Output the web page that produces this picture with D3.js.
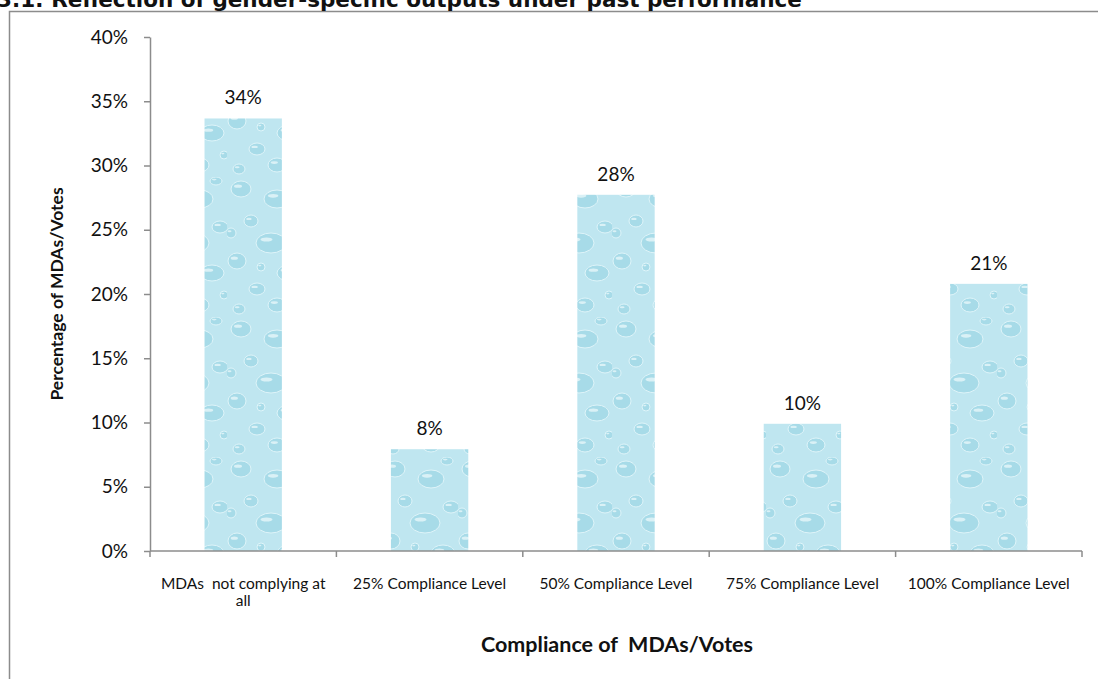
<!DOCTYPE html>
<html>
<head>
<meta charset="utf-8">
<script src="https://cdn.jsdelivr.net/npm/d3@7"></script>
<style>
  body { margin: 0; background: #fff; }
  svg { display: block; }
</style>
</head>
<body>
<script>
// data (34, 8, 28, 10, 21 out of 101 MDAs)
var categories = ['MDAs  not complying at all', '25% Compliance Level', '50% Compliance Level',
                  '75% Compliance Level', '100% Compliance Level']
var values = [33.66, 7.92, 27.72, 9.90, 20.79]
var labels = ['34%', '8%', '28%', '10%', '21%']
var yTicks = [0, 5, 10, 15, 20, 25, 30, 35, 40]

var W = 1098, H = 679
var margin = { top: 37, right: 16, bottom: 128, left: 150 },
    width = 1082 - margin.left,
    height = 551 - margin.top

var svg = d3.select('body').append('svg')
    .attr('width', W)
    .attr('height', H)

// water drop texture for the bars
var defs = svg.append('defs')
var pat = defs.append('pattern')
    .attr('id', 'drops')
    .attr('patternUnits', 'userSpaceOnUse')
    .attr('width', 77).attr('height', 140)
pat.append('rect').attr('width', 77).attr('height', 140).attr('fill', '#bfe6f0')
var drops = [[14, 12, 10, 8], [50, 22, 13, 9], [70, 50, 8, 6], [24, 44, 7, 6], [44, 66, 15, 10],
             [10, 84, 9, 8], [62, 96, 12, 8], [30, 112, 8, 6], [66, 4, 6, 4], [4, 56, 5, 5],
             [50, 128, 9, 7], [12, 132, 6, 5], [34, 90, 4, 4], [74, 118, 4, 4]]
pat.selectAll('ellipse.d').data(drops).enter().append('ellipse')
    .attr('cx', d => d[0]).attr('cy', d => d[1])
    .attr('rx', d => d[2]).attr('ry', d => d[3])
    .attr('fill', '#98d3e3').attr('fill-opacity', 0.6)
    .attr('stroke', '#def4f9').attr('stroke-width', 1)
pat.selectAll('ellipse.h').data(drops).enter().append('ellipse')
    .attr('cx', d => d[0] - d[2] * 0.3).attr('cy', d => d[1] - d[3] * 0.35)
    .attr('rx', d => d[2] * 0.4).attr('ry', d => d[3] * 0.2)
    .attr('fill', '#f0fbfd').attr('fill-opacity', 0.7)

// chart border (only top and left visible)
svg.append('path')
    .attr('d', 'M9.5,' + (H + 5) + 'V11.5H' + (W + 5))
    .attr('fill', 'none')
    .attr('stroke', '#8c8c8c')
    .attr('stroke-width', 1.5)

// title, cut off at the top edge as in the original
svg.append('text')
    .attr('x', -3).attr('y', 7)
    .attr('font-family', 'DejaVu Sans')
    .attr('font-weight', 'bold')
    .attr('font-size', 21.5)
    .attr('fill', '#111')
    .text('3.1: Reflection of gender-specific outputs under past performance')

var g = svg.append('g')
    .attr('transform', 'translate(' + margin.left + ',' + margin.top + ')')

var x = d3.scaleBand().domain(categories).range([0, width]).paddingInner(0.585).paddingOuter(0.2925)
var xb = d3.scaleBand().domain(categories).range([0, width])
var y = d3.scaleLinear().domain([0, 40]).range([height, 0])

// y axis
var yAxis = g.append('g')
    .call(d3.axisLeft(y).tickValues(yTicks).tickFormat(d => d + '%').tickSize(6).tickSizeOuter(0))
yAxis.select('.domain').attr('stroke', '#8c8c8c').attr('stroke-width', 1.5)
yAxis.selectAll('.tick line').attr('stroke', '#8c8c8c').attr('stroke-width', 1.5)
yAxis.selectAll('.tick text')
    .attr('x', -22)
    .attr('font-family', 'Lato')
    .attr('font-size', 19)
    .attr('fill', '#111')

// bars
g.selectAll('rect.bar')
    .data(values)
    .enter().append('rect')
    .attr('class', 'bar')
    .attr('x', (d, i) => x(categories[i]))
    .attr('y', d => y(d))
    .attr('width', x.bandwidth())
    .attr('height', d => height - y(d))
    .attr('fill', 'url(#drops)')

// data labels
g.selectAll('text.lbl')
    .data(values)
    .enter().append('text')
    .attr('class', 'lbl')
    .attr('x', (d, i) => x(categories[i]) + x.bandwidth() / 2)
    .attr('y', d => y(d) - 14)
    .attr('text-anchor', 'middle')
    .attr('font-family', 'Lato')
    .attr('font-size', 19)
    .attr('fill', '#111')
    .text((d, i) => labels[i])

// x axis with boundary ticks
var xAxis = g.append('g').attr('transform', 'translate(0,' + height + ')')
xAxis.append('line')
    .attr('x1', 0).attr('x2', width)
    .attr('stroke', '#8c8c8c').attr('stroke-width', 1.5)
xAxis.selectAll('line.tk')
    .data(categories.concat(['end']))
    .enter().append('line')
    .attr('class', 'tk')
    .attr('x1', (d, i) => i < categories.length ? xb(d) : width)
    .attr('x2', (d, i) => i < categories.length ? xb(d) : width)
    .attr('y1', 0).attr('y2', 6)
    .attr('stroke', '#8c8c8c').attr('stroke-width', 1.5)

// category labels (first one wraps)
var wrapped = [['MDAs  not complying at', 'all']]
xAxis.selectAll('text.cat')
    .data(categories)
    .enter().append('text')
    .attr('class', 'cat')
    .attr('x', d => xb(d) + xb.bandwidth() / 2)
    .attr('y', 38)
    .attr('text-anchor', 'middle')
    .attr('font-family', 'Lato')
    .attr('font-size', 15.5)
    .attr('fill', '#111')
    .style('white-space', 'pre')
    .each(function (d, i) {
        var lines = i === 0 ? wrapped[0] : [d]
        d3.select(this).selectAll('tspan').data(lines).enter().append('tspan')
            .attr('x', xb(d) + xb.bandwidth() / 2)
            .attr('dy', (l, j) => j === 0 ? 0 : 17)
            .text(l => l)
    })

// axis titles
svg.append('text')
    .attr('transform', 'translate(63,' + 294 + ') rotate(-90)')
    .attr('text-anchor', 'middle')
    .attr('font-family', 'Lato')
    .attr('font-weight', 'bold')
    .attr('font-size', 17.5)
    .attr('fill', '#111')
    .text('Percentage of MDAs/Votes')

svg.append('text')
    .attr('x', 617).attr('y', 652)
    .attr('text-anchor', 'middle')
    .attr('font-family', 'Lato')
    .attr('font-weight', 'bold')
    .attr('font-size', 21.5)
    .attr('fill', '#111')
    .style('white-space', 'pre')
    .text('Compliance of  MDAs/Votes')
</script>
</body>
</html>
